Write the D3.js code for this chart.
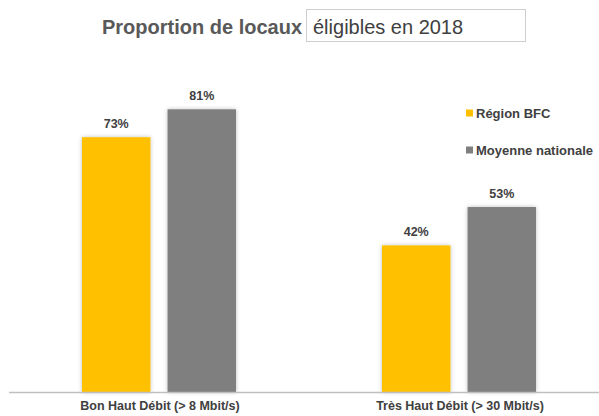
<!DOCTYPE html>
<html><head><meta charset="utf-8">
<script src="https://cdn.jsdelivr.net/npm/d3@7"></script>
<style>
html,body{margin:0;padding:0;background:#fff;}
svg{display:block;}
text{font-family:"Liberation Sans","DejaVu Sans",sans-serif;}
</style></head>
<body>
<svg id="chart" width="599" height="416"></svg>
<script>
const categories = ["Bon Haut Débit (> 8 Mbit/s)", "Très Haut Débit (> 30 Mbit/s)"];
const seriesNames = ["Région BFC", "Moyenne nationale"];
const regionBFC = [73, 42];
const moyenneNationale = [81, 53];
const colors = ["#FFC000", "#7F7F7F"];
const titleBold = "Proportion de locaux";
const titleRest = "éligibles en 2018";

const seriesValues = [regionBFC, moyenneNationale];
const svg = d3.select("#chart");

const defs = svg.append("defs");
const f = defs.append("filter").attr("id","sh").attr("x","-20%").attr("y","-20%").attr("width","140%").attr("height","140%");
f.append("feGaussianBlur").attr("in","SourceAlpha").attr("stdDeviation",2.2).attr("result","b");
f.append("feFlood").attr("flood-color","#000").attr("flood-opacity",0.25);
f.append("feComposite").attr("in2","b").attr("operator","in").attr("result","s");
const m = f.append("feMerge");
m.append("feMergeNode").attr("in","s");
m.append("feMergeNode").attr("in","SourceGraphic");

const y = d3.scaleLinear().domain([0, 100]).range([392, 43]);
const x0 = d3.scaleBand().domain(categories).range([10, 610]);
const x1 = d3.scaleBand().domain(seriesNames).range([72, 226]).paddingInner(0.2);

// title
svg.append("text").attr("x", 102).attr("y", 34).attr("font-size", 20).attr("font-weight", "bold")
  .attr("fill", "#595959").text(titleBold);
svg.append("rect").attr("x", 306.5).attr("y", 9.5).attr("width", 219).attr("height", 32)
  .attr("fill", "#fff").attr("stroke", "#cfcfcf");
svg.append("text").attr("x", 313).attr("y", 34).attr("font-size", 20)
  .attr("fill", "#404040").text(titleRest);

// bars
const groups = svg.append("g").selectAll("g").data(categories).join("g")
  .attr("transform", d => `translate(${x0(d)},0)`);
groups.each(function(cat, ci) {
  const g = d3.select(this);
  seriesNames.forEach((s, si) => {
    const v = seriesValues[si][ci];
    g.append("rect").attr("x", x1(s)).attr("y", y(v)).attr("width", x1.bandwidth())
      .attr("height", y(0) - y(v)).attr("fill", colors[si]).attr("filter", "url(#sh)");
    g.append("text").attr("x", x1(s) + x1.bandwidth() / 2).attr("y", y(v) - 9)
      .attr("text-anchor", "middle").attr("font-size", 12.5).attr("font-weight", "bold")
      .attr("fill", "#404040").text(v + "%");
  });
});

// axis
const axis = d3.axisBottom(x0).tickSize(0).tickPadding(10);
const ax = svg.append("g").attr("transform", `translate(0,${y(0)})`).call(axis);
ax.select(".domain").attr("d", "M9,0.5H599").attr("stroke", "#bfbfbf").attr("stroke-width", 1.5);
ax.selectAll(".tick text").attr("font-size", 12.5).attr("font-weight", "bold").attr("fill", "#404040")
  .attr("font-family", "'Liberation Sans', sans-serif").attr("dy", "0.71em").attr("y", 9);

// legend
const leg = svg.append("g");
seriesNames.forEach((s, i) => {
  const ly = 113 + i * 37;
  leg.append("rect").attr("x", 466).attr("y", ly - 3.5).attr("width", 7).attr("height", 7).attr("fill", colors[i]);
  leg.append("text").attr("x", 476).attr("y", ly + 4.5).attr("font-size", 13).attr("font-weight", "bold")
    .attr("fill", "#404040").text(s);
});
</script>
</body></html>
